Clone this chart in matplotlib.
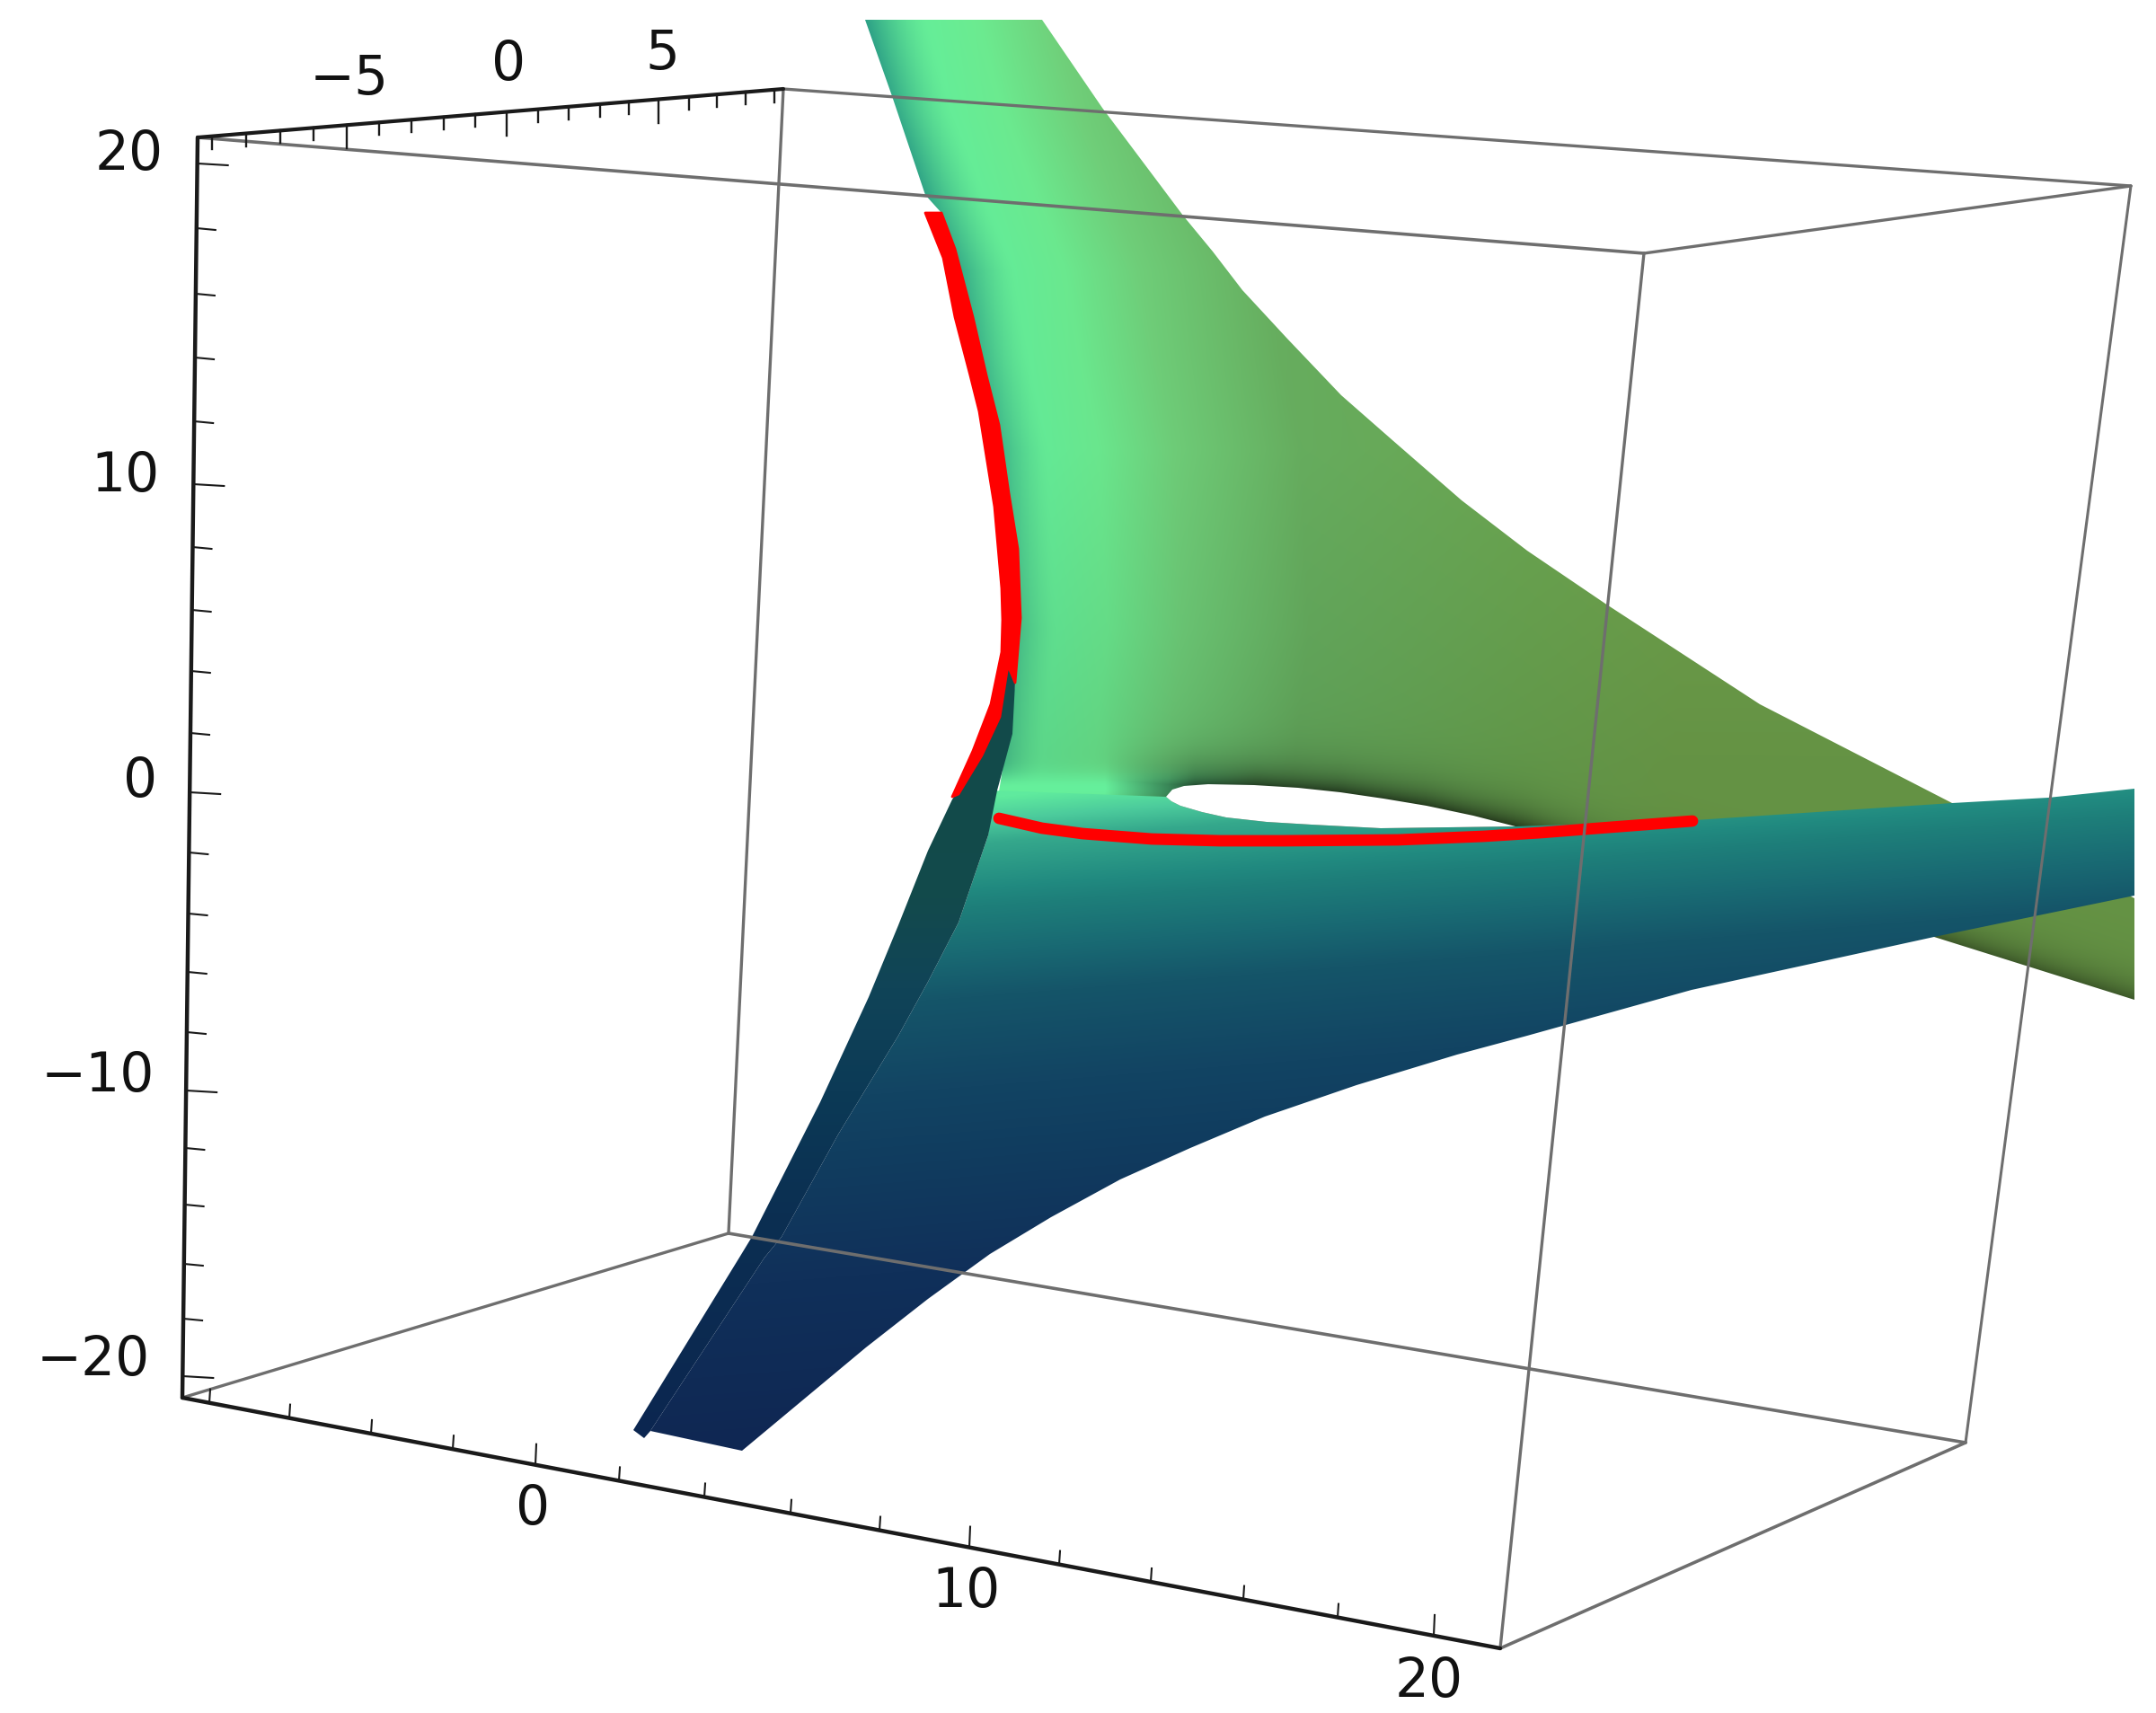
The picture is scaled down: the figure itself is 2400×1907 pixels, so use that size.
import numpy as np
import matplotlib as mpl
mpl.use('Agg')
import matplotlib.pyplot as plt
from matplotlib.colors import to_rgb
from matplotlib.patches import Polygon

width, height = 2400, 1907

# box corners
top_left = (220, 153)
top_back = (872, 99)
top_right = (2372, 207)
top_front = (1830, 282)
low_left = (203, 1556)
low_back = (811, 1373)
low_right = (2188, 1606)
low_front = (1670, 1835)

# z axis on the left edge
z_values = [20, 18, 16, 14, 12, 10, 8, 6, 4, 2, 0, -2, -4, -6, -8, -10, -12, -14, -16, -18, -20]
z_ticks = [182, 254, 327, 398, 469, 539, 609, 679, 747, 816, 882, 949, 1017, 1082, 1149, 1214, 1278, 1341, 1407, 1468, 1532]
z_labels = ['20', '10', '0', '\u221210', '\u221220']
z_label_right = [182, 178, 175, 172, 167]
z_label_y = [173, 530, 870, 1198, 1515]

# y axis along the top edge
y_values = [-9, -8, -7, -6, -5, -4, -3, -2, -1, 0, 1, 2, 3, 4, 5, 6, 7, 8, 9]
y_ticks = [236, 274, 312, 349, 386, 422, 458, 494, 529, 564, 599, 633, 668, 700, 733, 767, 798, 830, 862]
y_labels = ['\u22125', '0', '5']
y_label_x = [389, 566, 737]
y_label_y = [88, 73, 60]

# x axis along the bottom edge
x_values = [-8, -6, -4, -2, 0, 2, 4, 6, 8, 10, 12, 14, 16, 18, 20]
x_ticks = [233, 322, 413, 504, 596, 689, 784, 880, 979, 1079, 1179, 1281, 1384, 1489, 1596]
x_labels = ['0', '10', '20']
x_label_x = [593, 1076, 1591]
x_label_y = [1681, 1773, 1872]

# upper green sheet
green_x = [963, 993, 1030, 1048, 1067, 1090, 1112, 1123, 1133, 1136, 1130, 1125, 1109, 1109, 1300, 1700, 2153, 2376, 2376, 2173, 1959, 1850, 1787, 1700, 1627, 1550, 1493, 1433, 1383, 1350, 1317, 1227, 1160]
green_y = [22, 107, 217, 237, 291, 387, 473, 549, 611, 688, 760, 800, 900, 925, 925, 930, 1043, 1113, 1000, 894, 784, 713, 672, 613, 557, 490, 440, 377, 323, 280, 240, 120, 22]

# gap between the two sheets
hole_x = [1687, 1640, 1588, 1540, 1492, 1445, 1396, 1345, 1318, 1305, 1298, 1304, 1314, 1338, 1365, 1410, 1460, 1537]
hole_y = [920, 908, 897, 889, 882, 877, 874, 873, 875, 879, 887, 892, 897, 904, 910, 915, 918, 922]

# lower teal sheet
teal_x = [1105, 1298, 1304, 1314, 1338, 1365, 1410, 1460, 1537, 1687, 1887, 2173, 2280, 2376, 2376, 2153, 1883, 1700, 1622, 1510, 1408, 1325, 1247, 1170, 1102, 1033, 964, 826, 724, 851, 870, 933, 1000, 1033, 1067, 1100]
teal_y = [880, 887, 892, 897, 904, 910, 915, 918, 922, 920, 913, 894, 888, 878, 997, 1043, 1102, 1153, 1174, 1208, 1243, 1278, 1313, 1355, 1396, 1446, 1500, 1615, 1593, 1400, 1377, 1263, 1153, 1093, 1027, 930]

# folded flap on the left of the teal sheet
flap_x = [1123, 1126, 1128, 1130, 1127, 1110, 1100, 1067, 1033, 1000, 933, 870, 851, 724, 717, 705, 823, 837, 913, 967, 1000, 1033, 1060, 1093, 1113, 1120]
flap_y = [611, 650, 700, 760, 817, 880, 930, 1027, 1093, 1153, 1263, 1377, 1400, 1593, 1601, 1592, 1400, 1377, 1227, 1110, 1030, 947, 890, 841, 798, 741]

# red curves
red_band_x = [1030, 1048, 1063, 1083, 1098, 1112, 1123, 1133, 1136, 1130, 1122, 1113, 1093, 1067, 1060, 1083, 1103, 1115, 1116, 1115, 1107, 1090, 1080, 1063, 1050]
red_band_y = [237, 237, 277, 353, 418, 473, 549, 611, 688, 760, 741, 798, 841, 884, 887, 836, 784, 726, 690, 655, 564, 458, 418, 353, 287]
red_line_x = [1112, 1160, 1205, 1282, 1358, 1428, 1556, 1652, 1715, 1779, 1884]
red_line_y = [911, 922, 928, 934, 936, 936, 935, 931, 927, 922, 914]

# colour stops of the shading
ridge_y = [22, 120, 200, 300, 400, 500, 700, 860, 1200]
ridge_x = [1033, 1060, 1090, 1130, 1147, 1167, 1177, 1160, 1160]
shade_x = [1230, 1250, 1300, 1345, 1396, 1492, 1588, 1687, 1900, 2153, 2376]
shade_y = [868, 870, 873, 873, 874, 882, 897, 920, 980, 1043, 1113]
shade_amp_x = [1230, 1330, 1700, 1800, 2376]
shade_amp = [0, 0.62, 0.62, 0.4, 0.4]
teal_stops = [880, 905, 930, 980, 1000, 1050, 1100, 1200, 1300, 1400, 1600]
teal_colors = ['#5FEA9E', '#4CCB9C', '#35A88C', '#218A80', '#1E7F7A', '#196A73', '#155569', '#124463', '#103A5E', '#10305A', '#0F2652']
flap_stops = [600, 900, 1000, 1100, 1215, 1350, 1600]
flap_colors = ['#124A4A', '#124A4A', '#134A4C', '#104458', '#0C3A56', '#0B2F52', '#0C2650']
green_stops = [0, 0.08, 0.2, 0.4, 0.75, 1]
green_colors = ['#66EE98', '#6CEB90', '#70D07A', '#68B060', '#6CA852', '#70A34C']

plt.rcParams['font.family'] = ['DejaVu Sans']


def ramp(values, stops, colors):
  rgb = np.array([to_rgb(c) for c in colors])
  return np.stack([np.interp(values, stops, rgb[:, i]) for i in range(3)], axis=-1)


def mix(base, color, weight):
  return base * (1 - weight[..., None]) + np.array(to_rgb(color)) * weight[..., None]


def green_field(X, Y):
  ridge = np.interp(Y, ridge_y, ridge_x)
  field = ramp(np.clip((X - ridge) / 700, 0, 1), green_stops, green_colors)
  field = mix(field, '#2CA086', np.clip((ridge - X) / 70, 0, 1) ** 1.5)
  field = field * np.interp(Y, [0, 500, 850], [1, 0.98, 0.9])[..., None]
  band = np.exp(-((Y - 878) / 18) ** 2) * np.clip((1400 - X) / 100, 0, 1)
  field = mix(field, '#66F09C', band)
  dist = np.interp(X, shade_x, shade_y) - Y
  dark = np.interp(X, shade_amp_x, shade_amp) * np.exp(-np.clip(dist, 0, None) / 20)
  return field * (1 - dark)[..., None]


def draw_field(ax, field, xs, ys):
  patch = Polygon(np.column_stack([xs, ys]), closed=True, transform=ax.transData, fc='none', ec='none')
  ax.add_patch(patch)
  im = ax.imshow(field, extent=(0, width, height, 0), aspect='auto', interpolation='bilinear')
  im.set_clip_path(patch)


def edge(ax, a, b, color='#6e6e6e', lw=1.2):
  ax.plot([a[0], b[0]], [a[1], b[1]], color=color, lw=lw, solid_capstyle='round')


fig = plt.figure(figsize=(12, 9.535), dpi=200)
ax = fig.add_axes([0, 0, 1, 1])

X, Y = np.meshgrid(np.arange(width) + 0.5, np.arange(height) + 0.5)

# box edges that the surface hides
edge(ax, top_back, top_right)
edge(ax, top_back, low_back)
edge(ax, low_back, low_left)
edge(ax, low_back, low_right, lw=1.3)

draw_field(ax, green_field(X, Y), green_x, green_y)
ax.fill(hole_x, hole_y, color='white', lw=0)
draw_field(ax, ramp(Y + 0.08 * (X - 1200), teal_stops, teal_colors), teal_x, teal_y)
ax.fill(red_band_x, red_band_y, fc='#FF0000', ec='#FF0000', lw=1.0, joinstyle='round')
ax.plot(red_line_x, red_line_y, color='#FF0000', lw=4.6, solid_capstyle='round')
draw_field(ax, ramp(Y, flap_stops, flap_colors), flap_x, flap_y)

# box edges in front of it
edge(ax, top_left, top_front, lw=1.3)
edge(ax, top_front, top_right)
edge(ax, top_front, low_front)
edge(ax, top_right, low_right, lw=1.1)
edge(ax, low_right, low_front, lw=1.3)

# axes
edge(ax, top_left, top_back, color='#1a1a1a', lw=1.5)
edge(ax, top_left, low_left, color='#1a1a1a', lw=1.6)
edge(ax, low_left, low_front, color='#1a1a1a', lw=1.6)

for value, tick in zip(z_values, z_ticks):
  base = np.interp(tick, [top_left[1], low_left[1]], [top_left[0], low_left[0]])
  size = 34 if value % 10 == 0 else 21
  ax.plot([base, base + size], [tick, tick + 2], color='#1a1a1a', lw=0.75)

for value, tick in zip(y_values, y_ticks):
  base = np.interp(tick, [top_left[0], top_back[0]], [top_left[1], top_back[1]])
  size = 26 if value % 5 == 0 else 14
  ax.plot([tick, tick], [base, base + size], color='#1a1a1a', lw=0.85)

for value, tick in zip(x_values, x_ticks):
  base = np.interp(tick, [low_left[0], low_front[0]], [low_left[1], low_front[1]])
  size = 23 if value % 10 == 0 else 15
  ax.plot([tick, tick + 1], [base, base - size], color='#1a1a1a', lw=0.75)

text_style = dict(fontsize=21.5, color='#111111', va='center')
for label, x, y in zip(z_labels, z_label_right, z_label_y):
  ax.text(x, y, label, ha='right', **text_style)
for label, x, y in zip(y_labels, y_label_x, y_label_y):
  ax.text(x, y, label, ha='center', **text_style)
for label, x, y in zip(x_labels, x_label_x, x_label_y):
  ax.text(x, y, label, ha='center', **text_style)

ax.set_xlim(0, width)
ax.set_ylim(height, 0)
ax.axis('off')

fig.savefig('out.png', dpi=200, facecolor='white')
